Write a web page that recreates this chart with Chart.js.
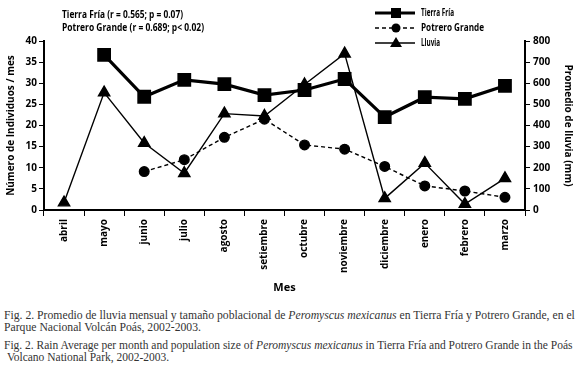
<!DOCTYPE html>
<html>
<head>
<meta charset="utf-8">
<script src="https://cdn.jsdelivr.net/npm/chart.js@4"></script>
<style>
  body { margin: 0; background: #fff; width: 580px; height: 377px; position: relative; overflow: hidden; }
  #wrap { position: absolute; left: 0; top: 0; width: 580px; height: 300px; }
  .cap { position: absolute; left: 4px; font-family: 'Liberation Serif', 'Times New Roman', serif; font-size: 11.7px; line-height: 11.5px; color: #333; white-space: nowrap; }
</style>
</head>
<body>
<div id="wrap"><canvas id="chart" width="580" height="300"></canvas></div>
<div class="cap" style="top:310px">Fig. 2. Promedio de lluvia mensual y tamaño poblacional de <i>Peromyscus mexicanus</i> en Tierra Fría y Potrero Grande, en el<br>Parque Nacional Volcán Poás, 2002-2003.</div>
<div class="cap" style="top:340px; left:4px; font-size:11.5px">Fig. 2. Rain Average per month and population size of <i>Peromyscus mexicanus</i> in Tierra Fría and Potrero Grande in the Poás<br>&nbsp;Volcano National Park, 2002-2003.</div>
<script>
var months = ['abril', 'mayo', 'junio', 'julio', 'agosto', 'setiembre', 'octubre', 'noviembre', 'diciembre', 'enero', 'febrero', 'marzo'];
var tierraFria = [null, 36.7, 26.8, 30.8, 29.8, 27.2, 28.4, 31.0, 22.0, 26.7, 26.3, 29.4];
var potreroGrande = [null, null, 9.1, 11.9, 17.2, 21.5, 15.4, 14.4, 10.3, 5.7, 4.5, 3.0];
var lluvia = [35, 556, 317, 174, 456, 445, 594, 740, 55, 222, 28, 150];

var stats = ['Tierra Fría (r = 0.565; p = 0.07)', 'Potrero Grande (r = 0.689; p< 0.02)'];

var boldFont = { family: "'Open Sans', sans-serif", size: 10, weight: 'bold' };

// legend + correlation text, drawn on top of the chart
var extras = {
    id: 'extras',
    afterDraw: function(chart) {
        var ctx = chart.ctx;
        ctx.save();
        ctx.fillStyle = '#000';
        ctx.font = "bold 10px 'Open Sans', sans-serif";
        ctx.textBaseline = 'middle';
        ctx.fillText(stats[0], 62, 15, 121);
        ctx.fillText(stats[1], 62, 28, 142);

        var rows = [
            { label: 'Tierra Fría', y: 13, width: 3, dash: [], marker: 'square', w: 33 },
            { label: 'Potrero Grande', y: 28, width: 1.3, dash: [4, 3], marker: 'circle', w: 63 },
            { label: 'Lluvia', y: 43, width: 1.3, dash: [], marker: 'triangle', w: 19 }
        ];
        rows.forEach(function(r) {
            ctx.strokeStyle = '#000';
            ctx.lineWidth = r.width;
            ctx.setLineDash(r.dash);
            ctx.beginPath();
            ctx.moveTo(375, r.y);
            ctx.lineTo(415, r.y);
            ctx.stroke();
            ctx.setLineDash([]);
            ctx.beginPath();
            if (r.marker === 'square') {
                ctx.rect(391, r.y - 5, 10, 10);
            } else if (r.marker === 'circle') {
                ctx.arc(396, r.y, 4.5, 0, Math.PI * 2);
            } else {
                ctx.moveTo(396, r.y - 6);
                ctx.lineTo(402, r.y + 4);
                ctx.lineTo(390, r.y + 4);
                ctx.closePath();
            }
            ctx.fill();
            ctx.fillText(r.label, 421, r.y, r.w);
        });
        ctx.restore();
    }
};

var ctx = document.getElementById('chart').getContext('2d');
new Chart(ctx, {
    type: 'line',
    data: {
        labels: months,
        datasets: [{
            label: 'Tierra Fría',
            data: tierraFria,
            yAxisID: 'y',
            borderColor: '#000',
            backgroundColor: '#000',
            borderWidth: 3.2,
            pointStyle: 'rect',
            pointRadius: 7.5,
            order: 1
        }, {
            label: 'Potrero Grande',
            data: potreroGrande,
            yAxisID: 'y',
            borderColor: '#000',
            backgroundColor: '#000',
            borderWidth: 1.4,
            borderDash: [4, 3],
            pointStyle: 'circle',
            pointRadius: 4.8,
            order: 2
        }, {
            label: 'Lluvia',
            data: lluvia,
            yAxisID: 'y1',
            borderColor: '#000',
            backgroundColor: '#000',
            borderWidth: 1.4,
            pointStyle: 'triangle',
            pointRadius: 6.5,
            order: 3
        }]
    },
    options: {
        responsive: false,
        animation: false,
        devicePixelRatio: 1,
        spanGaps: false,
        layout: { padding: { top: 41, left: 0, right: 0, bottom: 0 } },
        plugins: { legend: { display: false }, tooltip: { enabled: false } },
        scales: {
            x: {
                offset: true,
                grid: { offset: true, drawOnChartArea: false, tickLength: 6, color: '#000', lineWidth: 1 },
                border: { color: '#000', width: 2 },
                ticks: { minRotation: 90, maxRotation: 90, color: '#000', font: boldFont, padding: 3 },
                title: { display: true, text: 'Mes', color: '#000', font: { family: "'Open Sans', sans-serif", size: 11, weight: 'bold' }, padding: { top: 0, bottom: 6 } },
                afterFit: function(s) { s.height = 90; }
            },
            y: {
                position: 'left',
                min: 0,
                max: 40,
                ticks: { stepSize: 5, color: '#000', font: boldFont, padding: 2 },
                grid: { drawOnChartArea: false, tickLength: 5, color: '#000' },
                border: { color: '#000', width: 2 },
                title: { display: true, text: 'Número de Individuos / mes', color: '#000', font: { family: "'Open Sans', sans-serif", size: 10, weight: 'bold' }, padding: { top: 5, bottom: 0 } },
                afterFit: function(s) { s.width = 44; }
            },
            y1: {
                position: 'right',
                min: 0,
                max: 800,
                ticks: { stepSize: 100, color: '#000', font: boldFont, padding: 3 },
                grid: { drawOnChartArea: false, tickLength: 5, color: '#000' },
                border: { color: '#000', width: 2 },
                title: { display: true, text: 'Promedio de lluvia (mm)', color: '#000', font: { family: "'Open Sans', sans-serif", size: 10, weight: 'bold' }, padding: { top: 6, bottom: 0 } },
                afterFit: function(s) { s.width = 55; }
            }
        }
    },
    plugins: [extras]
});
</script>
</body>
</html>
